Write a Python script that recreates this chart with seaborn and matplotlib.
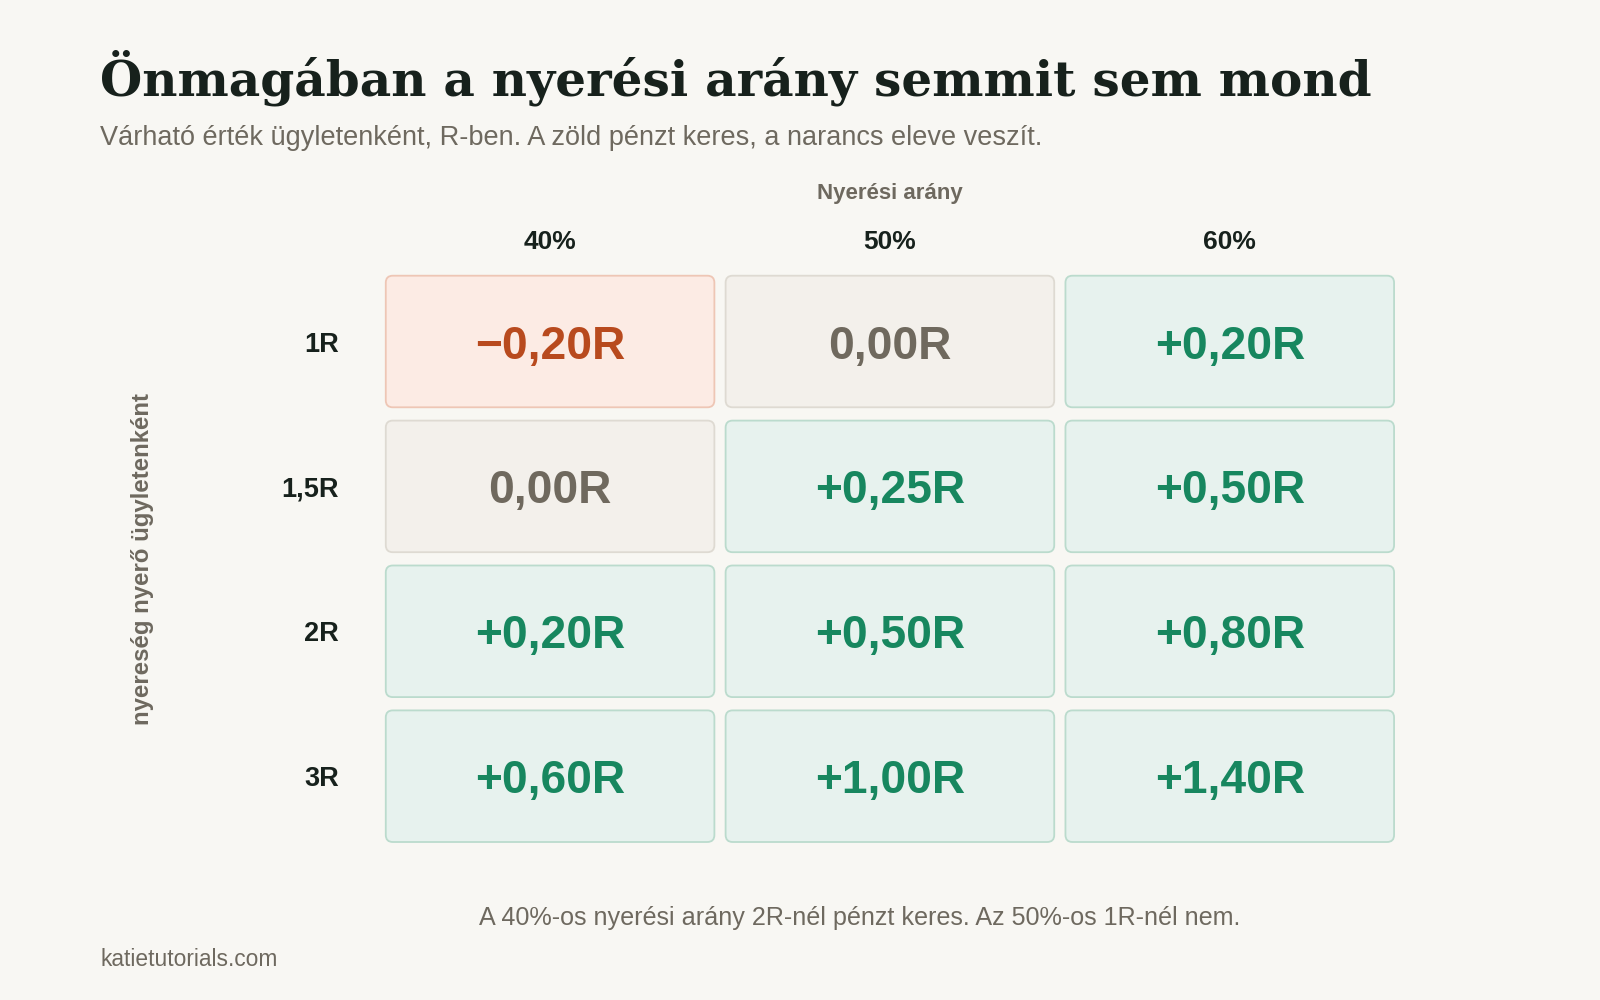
import numpy as np
import pandas as pd
import matplotlib
matplotlib.use("Agg")
import matplotlib.pyplot as plt
import seaborn as sns
from matplotlib.patches import FancyBboxPatch

# ---- data ----
win_rates = ["40%", "50%", "60%"]
reward_levels = ["1R", "1,5R", "2R", "3R"]
ev_values = [
    [-0.20, 0.00, 0.20],
    [0.00, 0.25, 0.50],
    [0.20, 0.50, 0.80],
    [0.60, 1.00, 1.40],
]

title = "Önmagában a nyerési arány semmit sem mond"
subtitle = "Várható érték ügyletenként, R-ben. A zöld pénzt keres, a narancs eleve veszít."
x_title = "Nyerési arány"
y_title = "nyereség nyerő ügyletenként"
footnote = "A 40%-os nyerési arány 2R-nél pénzt keres. Az 50%-os 1R-nél nem."
source = "katietutorials.com"

# ---- style ----
BG = "#F8F7F3"
DARK = "#17211C"
GRAY = "#6E695F"
STYLE = {
    "neg": dict(face="#FCEBE4", edge="#EEC6B5", text="#B84A1E"),
    "zero": dict(face="#F3F0EB", edge="#DEDAD2", text="#6F695E"),
    "pos": dict(face="#E7F2EE", edge="#BBDBCD", text="#17875F"),
}

plt.rcParams["font.family"] = ["Liberation Sans", "DejaVu Sans"]

def fmt(v):
    if abs(v) < 1e-9:
        return "0,00R"
    s = f"{abs(v):.2f}".replace(".", ",")
    return ("+" if v > 0 else "\u2212") + s + "R"

def kind(v):
    if abs(v) < 1e-9:
        return "zero"
    return "pos" if v > 0 else "neg"

df = pd.DataFrame(ev_values, index=reward_levels, columns=win_rates)
labels = np.array([[fmt(v) for v in row] for row in ev_values])

fig = plt.figure(figsize=(16, 10), dpi=100, facecolor=BG)
ax = fig.add_axes([0.2376, 0.15135, 0.6372, 0.5796])
ax.set_facecolor(BG)

sns.heatmap(df, ax=ax, annot=labels, fmt="", cbar=False, cmap="Greys",
            annot_kws=dict(fontsize=33.2, fontweight="bold"))
ax.collections[0].set_visible(False)

# rounded cells
ix, iy = 0.0165, 0.0459
px_x = 0.6372 * 1600
px_y = 0.5796 * 1000
aspect = (px_x / 3) / (px_y / 4)
rad = 7 / (px_x / 3)
for r, row in enumerate(ev_values):
    for c, v in enumerate(row):
        st = STYLE[kind(v)]
        p = FancyBboxPatch((c + ix, r + iy), 1 - 2 * ix, 1 - 2 * iy,
                           boxstyle=f"round,pad=0,rounding_size={rad}",
                           mutation_aspect=aspect,
                           facecolor=st["face"], edgecolor=st["edge"],
                           linewidth=1.3, zorder=1)
        ax.add_patch(p)

flat = [v for row in ev_values for v in row]
for t, v in zip(ax.texts, flat):
    t.set_color(STYLE[kind(v)]["text"])
    t.set_va("center_baseline")
    t.set_zorder(3)

ax.xaxis.tick_top()
ax.tick_params(axis="x", length=0, pad=11, labelsize=19, labelcolor=DARK)
ax.tick_params(axis="y", length=0, pad=29.5, labelsize=19.5, labelcolor=DARK)
for lab in ax.get_xticklabels():
    lab.set_fontweight("bold")
for lab in ax.get_yticklabels():
    lab.set_fontweight("bold")
    lab.set_rotation(0)
    lab.set_ha("right")
    lab.set_va("center_baseline")

ax.set_xlabel(x_title, fontsize=16, fontweight="bold", color=GRAY, va="baseline")
ax.xaxis.set_label_position("top")
ax.xaxis.set_label_coords(0.5, (848.65 - 199.3) / 579.6)
ax.set_ylabel(y_title, fontsize=16, fontweight="bold", color=GRAY,
              va="center", ha="center")
ax.yaxis.set_label_coords((142.9 - 380.1) / 1019.4, 0.5)

for s in ax.spines.values():
    s.set_visible(False)

t_title = fig.text(100 / 1600, 1 - 96 / 1000, title, fontsize=36, fontweight="bold",
                   family=["DejaVu Serif"], color=DARK, ha="left", va="baseline")
t_sub = fig.text(100 / 1600, 1 - 145 / 1000, subtitle, fontsize=18, color=GRAY,
                 ha="left", va="baseline")
t_foot = fig.text(859.7 / 1600, 1 - 924.5 / 1000, footnote, fontsize=17, color=GRAY,
                  ha="center", va="baseline")
t_src = fig.text(100 / 1600, 1 - 965.7 / 1000, source, fontsize=16, color=GRAY,
                 ha="left", va="baseline")

fig.canvas.draw()
rend = fig.canvas.get_renderer()

def fit(t, target, dim="w"):
    bb = t.get_window_extent(rend)
    cur = bb.width if dim == "w" else bb.height
    t.set_fontsize(t.get_fontsize() * target / cur)

fit(t_title, 1272)
fit(t_sub, 939)
fit(t_foot, 760)
fit(t_src, 178)
fit(ax.yaxis.label, 331.6, "h")

fig.savefig("out.png", dpi=100, facecolor=BG)
